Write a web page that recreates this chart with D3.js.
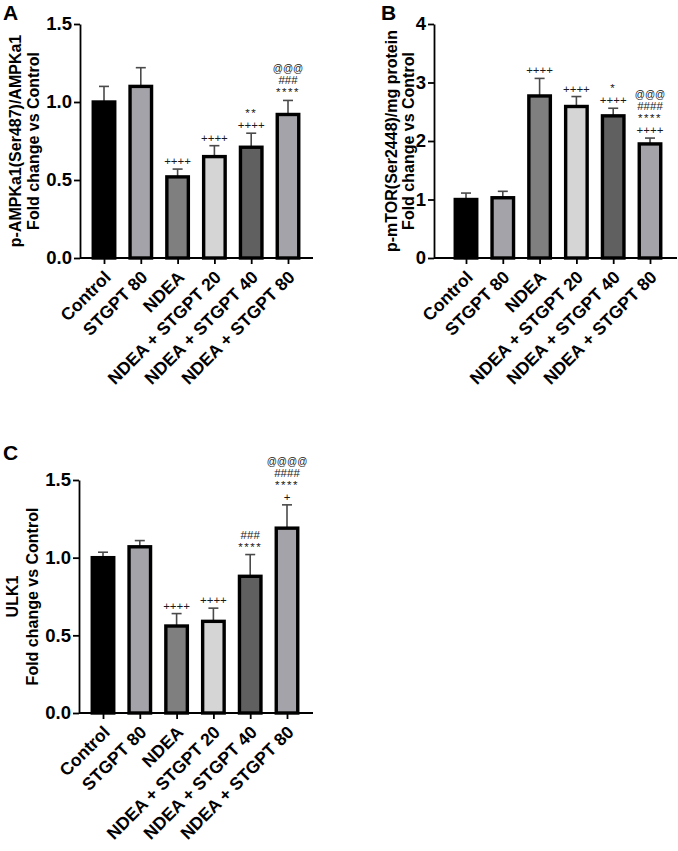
<!DOCTYPE html>
<html>
<head>
<meta charset="utf-8">
<script src="https://cdn.jsdelivr.net/npm/d3@7"></script>
<style>
  body { margin: 0; background: #fff; }
  svg { display: block; font-family: "Liberation Sans", Arial, sans-serif; }
</style>
</head>
<body>
<div id="chart"></div>
<script>
// groups shared by all three panels
var groups = ["Control", "STGPT 80", "NDEA", "NDEA + STGPT 20", "NDEA + STGPT 40", "NDEA + STGPT 80"];

// panel A - p-AMPKa1
var ampkMean = [1.00, 1.10, 0.52, 0.65, 0.71, 0.92];
var ampkErr = [0.10, 0.12, 0.05, 0.07, 0.09, 0.09];
var ampkSig = [[], [], ["++++"], ["++++"], ["**", "++++"], ["@@@", "###", "****"]];
var ampkTicks = [0, 0.5, 1.0, 1.5];

// panel B - p-mTOR
var mtorMean = [1.00, 1.03, 2.77, 2.59, 2.43, 1.95];
var mtorErr = [0.11, 0.11, 0.30, 0.17, 0.13, 0.10];
var mtorSig = [[], [], ["++++"], ["++++"], ["*", "++++"], ["@@@", "####", "****", "++++"]];
var mtorTicks = [0, 1, 2, 3, 4];

// panel C - ULK1
var ulkMean = [1.00, 1.07, 0.56, 0.59, 0.88, 1.19];
var ulkErr = [0.035, 0.04, 0.08, 0.085, 0.14, 0.15];
var ulkSig = [[], [], ["++++"], ["++++"], ["###", "****"], ["@@@@", "####", "****", "+"]];
var ulkTicks = [0, 0.5, 1.0, 1.5];

var barColors = ["#000000", "#a4a3a9", "#7f7f7f", "#d5d5d5", "#606060", "#a4a3a9"];

var svg = d3.select("#chart")
    .append("svg")
    .attr("width", 678)
    .attr("height", 851);

// one panel = one bar chart with its own axes
function drawPanel(p) {
    var g = svg.append("g");

    var x = d3.scalePoint().domain(groups).range([p.firstTick, p.lastTick]);
    var y = d3.scaleLinear().domain([0, p.ticks[p.ticks.length - 1]]).range([p.bottom, p.top]);

    var rows = groups.map(function (d, i) {
        return { name: d, mean: p.mean[i], err: p.err[i], sig: p.sig[i], color: barColors[i] };
    });

    // error bars (upper only)
    var eb = g.selectAll(".err").data(rows).enter().append("g")
        .attr("stroke", "#4a4a4a")
        .attr("stroke-width", 1.6);
    eb.append("line")
        .attr("x1", function (d) { return x(d.name); })
        .attr("x2", function (d) { return x(d.name); })
        .attr("y1", function (d) { return y(d.mean); })
        .attr("y2", function (d) { return y(d.mean + d.err); });
    eb.append("line")
        .attr("x1", function (d) { return x(d.name) - 5; })
        .attr("x2", function (d) { return x(d.name) + 5; })
        .attr("y1", function (d) { return y(d.mean + d.err); })
        .attr("y2", function (d) { return y(d.mean + d.err); });

    // bars
    var bw = 21.5;
    g.selectAll(".bar").data(rows).enter().append("rect")
        .attr("x", function (d) { return x(d.name) - bw / 2; })
        .attr("y", function (d) { return y(d.mean); })
        .attr("width", bw)
        .attr("height", function (d) { return y(0) - y(d.mean); })
        .attr("fill", function (d) { return d.color; })
        .attr("stroke", "#000")
        .attr("stroke-width", 3.4);

    // significance marks stacked above the error bar
    rows.forEach(function (d) {
        var n = d.sig.length;
        d.sig.forEach(function (s, k) {
            g.append("text")
                .attr("x", x(d.name))
                .attr("y", y(d.mean + d.err) - 4 - (n - 1 - k) * 12)
                .attr("text-anchor", "middle")
                .attr("font-size", s.charAt(0) === "@" ? "10px" : "11.5px")
                .attr("letter-spacing", s.charAt(0) === "*" ? "1.5px" : "0px")
                .attr("fill", "#1a1a1a")
                .text(s);
        });
    });

    // y axis
    var ya = g.append("g")
        .attr("transform", "translate(" + p.axisX + ",0)")
        .call(d3.axisLeft(y).tickValues(p.ticks).tickFormat(p.fmt).tickSize(6).tickSizeOuter(0));
    ya.select(".domain").attr("stroke-width", 1.8);
    ya.selectAll(".tick line").attr("stroke-width", 1.8);
    ya.selectAll(".tick text")
        .attr("font-size", "18.5px")
        .attr("font-weight", "bold")
        .attr("font-family", "Liberation Sans, Arial, sans-serif")
        .attr("fill", "#000")
        .attr("x", -8);

    // x axis
    var xa = g.append("g")
        .attr("transform", "translate(0," + p.bottom + ")")
        .call(d3.axisBottom(x).tickSize(6).tickSizeOuter(0));
    xa.select(".domain").remove();
    xa.append("line")
        .attr("x1", p.axisX)
        .attr("x2", p.axisEnd)
        .attr("stroke", "#000")
        .attr("stroke-width", 1.8);
    xa.selectAll(".tick line").attr("stroke-width", 1.8);
    xa.selectAll(".tick text")
        .attr("font-size", "17.5px")
        .attr("font-weight", "bold")
        .attr("font-family", "Liberation Sans, Arial, sans-serif")
        .attr("fill", "#000")
        .attr("text-anchor", "end")
        .attr("y", 0)
        .attr("dy", "0.35em")
        .attr("transform", "translate(3,16) rotate(-45)");

    // axis title, two lines
    var cy = (p.top + p.bottom) / 2;
    p.title.forEach(function (t, i) {
        g.append("text")
            .attr("transform", "translate(" + p.titleX[i] + "," + cy + ") rotate(-90)")
            .attr("text-anchor", "middle")
            .attr("font-size", "16px")
            .attr("font-weight", "bold")
            .text(t);
    });

    // panel letter
    g.append("text")
        .attr("x", p.letterX)
        .attr("y", p.letterY)
        .attr("font-size", "21px")
        .attr("font-weight", "bold")
        .text(p.letter);
}

drawPanel({
    letter: "A", letterX: 3, letterY: 20,
    mean: ampkMean, err: ampkErr, sig: ampkSig, ticks: ampkTicks, fmt: d3.format(".1f"),
    axisX: 80, axisEnd: 313, firstTick: 104, lastTick: 288, top: 24, bottom: 258,
    title: ["p-AMPKa1(Ser487)/AMPKa1", "Fold change vs Control"], titleX: [21, 39]
});

drawPanel({
    letter: "B", letterX: 381, letterY: 20,
    mean: mtorMean, err: mtorErr, sig: mtorSig, ticks: mtorTicks, fmt: d3.format("d"),
    axisX: 434, axisEnd: 677, firstTick: 466, lastTick: 650, top: 24, bottom: 258,
    title: ["p-mTOR(Ser2448)/mg protein", "Fold change vs Control"], titleX: [397, 414]
});

drawPanel({
    letter: "C", letterX: 3, letterY: 460,
    mean: ulkMean, err: ulkErr, sig: ulkSig, ticks: ulkTicks, fmt: d3.format(".1f"),
    axisX: 79, axisEnd: 313, firstTick: 103, lastTick: 287, top: 480, bottom: 713,
    title: ["ULK1", "Fold change vs Control"], titleX: [18, 38]
});
</script>
</body>
</html>
